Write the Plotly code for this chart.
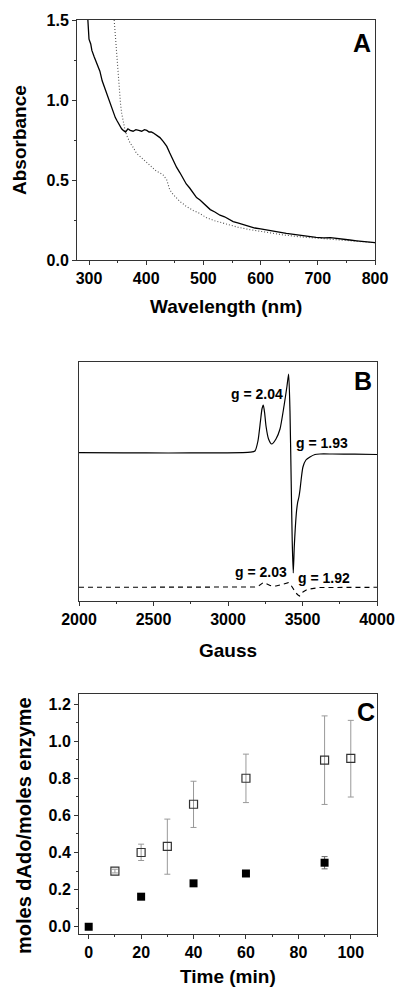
import plotly.graph_objects as go

W, H = 397, 989

# ---------------- Panel A data (UV-Vis) ----------------
a_solid_nm = [298, 300, 303, 305, 309, 313, 316, 319, 323, 327, 331, 335, 339, 342, 346, 349, 351,
              354, 357, 360, 364, 368, 372, 377, 382, 387, 392, 397, 401, 405, 409, 412, 418, 424,
              430, 436, 441, 447, 453, 459, 465, 470, 476, 482, 488, 494, 500, 505, 512, 520, 529,
              537, 545, 552, 560, 570, 581, 590, 600, 610, 620, 632, 645, 658, 670, 684, 697, 710,
              722, 735, 748, 756, 768, 780, 790, 800]
a_solid_abs = [1.50, 1.38, 1.35, 1.31, 1.27, 1.23, 1.20, 1.18, 1.12, 1.08, 1.04, 0.99, 0.95, 0.93,
               0.89, 0.87, 0.855, 0.84, 0.82, 0.81, 0.80, 0.82, 0.81, 0.805, 0.815, 0.81, 0.805,
               0.815, 0.81, 0.80, 0.80, 0.795, 0.78, 0.765, 0.74, 0.71, 0.67, 0.62, 0.58, 0.545,
               0.51, 0.475, 0.45, 0.42, 0.39, 0.375, 0.355, 0.335, 0.315, 0.30, 0.28, 0.27, 0.255,
               0.24, 0.232, 0.22, 0.208, 0.20, 0.195, 0.188, 0.182, 0.175, 0.167, 0.16, 0.153,
               0.148, 0.142, 0.138, 0.14, 0.133, 0.128, 0.125, 0.12, 0.116, 0.112, 0.108]

a_dot_nm = [344, 346, 348, 350, 352, 355, 357, 360, 363, 367, 372, 378, 383, 390, 395, 401, 408,
            413, 418, 424, 430, 436, 441, 447, 453, 459, 465, 470, 482, 494, 505, 520, 540, 560,
            581, 610, 639, 668, 697, 726, 756, 780, 800]
a_dot_abs = [1.50, 1.41, 1.31, 1.20, 1.08, 0.98, 0.92, 0.86, 0.81, 0.77, 0.73, 0.70, 0.667, 0.645,
             0.63, 0.61, 0.59, 0.57, 0.555, 0.545, 0.53, 0.50, 0.44, 0.41, 0.385, 0.365, 0.35,
             0.335, 0.31, 0.29, 0.265, 0.245, 0.225, 0.205, 0.19, 0.173, 0.157, 0.145, 0.137,
             0.13, 0.122, 0.115, 0.108]

# ---------------- Panel B data (EPR, arbitrary units) ----------------
b_top_gauss = [2000, 2300, 2600, 2900, 3100, 3150, 3181, 3201, 3218, 3228, 3237, 3246, 3255, 3272,
               3293, 3322, 3349, 3376, 3396, 3407, 3416, 3424, 3431, 3438, 3445, 3452, 3460, 3468,
               3476, 3483, 3493, 3503, 3523, 3550, 3584, 3617, 3700, 3850, 4000]
b_top_signal = [148.3, 148.2, 148.0, 148.1, 148.4, 148.8, 150, 160, 180, 192, 196, 188, 175, 162,
                157, 162, 172, 195, 215, 227, 190, 120, 60, 28, 55, 74, 90, 99, 104, 111, 124,
                134, 141, 144, 146.5, 147, 147, 146.8, 146.5]

b_bot_gauss = [2000, 2400, 2800, 3100, 3181, 3210, 3237, 3255, 3282, 3322, 3369, 3395, 3405,
               3418, 3429, 3442, 3456, 3470, 3480, 3492, 3503, 3525, 3550, 3617, 3800, 4000]
b_bot_signal = [13.7, 13.7, 13.7, 13.7, 14.0, 15.5, 18.5, 17.5, 15.5, 15.0, 17.0, 18.3, 18.3,
                17.0, 14.0, 10.5, 8.0, 6.0, 5.0, 6.5, 9.0, 11.0, 12.0, 13.5, 13.7, 13.7]

# ---------------- Panel C data ----------------
c_open_time = [10, 20, 30, 40, 60, 90, 100]
c_open_val = [0.30, 0.40, 0.433, 0.66, 0.80, 0.898, 0.907]
c_open_err_plus = [0.01, 0.045, 0.147, 0.124, 0.13, 0.238, 0.205]
c_open_err_minus = [0.01, 0.043, 0.150, 0.125, 0.131, 0.239, 0.208]

c_fill_time = [0, 20, 40, 60, 90]
c_fill_val = [0.0, 0.162, 0.234, 0.287, 0.345]
c_fill_err = [0.0, 0.005, 0.005, 0.005, 0.033]

a_x_ticks = [300, 400, 500, 600, 700, 800]
a_y_ticks = [0.0, 0.5, 1.0, 1.5]
b_x_ticks = [2000, 2500, 3000, 3500, 4000]
c_x_ticks = [0, 20, 40, 60, 80, 100]
c_y_ticks = [0.0, 0.2, 0.4, 0.6, 0.8, 1.0, 1.2]


def px(x):
    return x / W


def py(y):
    return 1 - y / H


FONT = "Liberation Sans, Arial, sans-serif"
tickfont = dict(family=FONT, size=16, color="black", weight="bold")

fig = go.Figure()

# Panel A
fig.add_trace(go.Scatter(x=a_dot_nm, y=a_dot_abs, mode="lines", xaxis="x", yaxis="y",
                         line=dict(color="#555555", width=1.1, dash="1px,2px"), showlegend=False))
fig.add_trace(go.Scatter(x=a_solid_nm, y=a_solid_abs, mode="lines", xaxis="x", yaxis="y",
                         line=dict(color="black", width=1.3), showlegend=False))

# Panel B
fig.add_trace(go.Scatter(x=b_top_gauss, y=b_top_signal, mode="lines", xaxis="x2", yaxis="y2",
                         line=dict(color="black", width=1.2, shape="spline", smoothing=0.6),
                         showlegend=False))
fig.add_trace(go.Scatter(x=b_bot_gauss, y=b_bot_signal, mode="lines", xaxis="x2", yaxis="y2",
                         line=dict(color="black", width=1.1, dash="5px,4px"), showlegend=False))

# Panel C
fig.add_trace(go.Scatter(x=c_open_time, y=c_open_val, mode="markers", xaxis="x3", yaxis="y3",
                         marker=dict(symbol="square-open", size=8, color="#333333",
                                     line=dict(width=1.2, color="#333333")),
                         error_y=dict(type="data", array=c_open_err_plus,
                                      arrayminus=c_open_err_minus, color="#999999",
                                      thickness=1, width=3),
                         showlegend=False))
fig.add_trace(go.Scatter(x=c_fill_time, y=c_fill_val, mode="markers", xaxis="x3", yaxis="y3",
                         marker=dict(symbol="square", size=8, color="black"),
                         error_y=dict(type="data", array=c_fill_err, color="#666666",
                                      thickness=1, width=3),
                         showlegend=False))

axis_common = dict(showline=True, linecolor="#333333", linewidth=1, mirror=True,
                   showgrid=False, zeroline=False, ticks="outside", ticklen=4,
                   tickcolor="#333333", tickwidth=1, tickfont=tickfont, automargin=False)

fig.update_layout(
    template="none",
    width=W, height=H,
    margin=dict(l=0, r=0, t=0, b=0, autoexpand=False),
    paper_bgcolor="white", plot_bgcolor="white",
    xaxis=dict(**axis_common, domain=[px(77), px(375)], anchor="y", range=[279, 800],
               tickvals=a_x_ticks, ticktext=[str(v) for v in a_x_ticks],
               minor=dict(dtick=50, ticks="outside", ticklen=2, tickcolor="#333333")),
    yaxis=dict(**axis_common, domain=[py(260), py(20)], anchor="x", range=[0, 1.5],
               tickvals=a_y_ticks, ticktext=["0.0", "0.5", "1.0", "1.5"],
               minor=dict(dtick=0.25, ticks="outside", ticklen=2, tickcolor="#333333")),
    xaxis2=dict(**axis_common, domain=[px(79), px(377)], anchor="y2", range=[2000, 4000],
                tickvals=b_x_ticks, ticktext=[str(v) for v in b_x_ticks],
                minor=dict(dtick=250, ticks="outside", ticklen=2, tickcolor="#333333")),
    yaxis2=dict(showline=True, linecolor="#333333", linewidth=1, mirror=True, showgrid=False,
                zeroline=False, showticklabels=False, ticks="", automargin=False,
                domain=[py(601), py(362)], anchor="x2", range=[0, 239]),
    xaxis3=dict(**axis_common, domain=[px(79), px(377)], anchor="y3", range=[-3.7, 110],
                tickvals=c_x_ticks, ticktext=[str(v) for v in c_x_ticks],
                minor=dict(dtick=10, ticks="outside", ticklen=2, tickcolor="#333333")),
    yaxis3=dict(**axis_common, domain=[py(934), py(694)], anchor="x3", range=[-0.039, 1.254],
                tickvals=c_y_ticks, ticktext=["%.1f" % v for v in c_y_ticks],
                minor=dict(dtick=0.1, ticks="outside", ticklen=2, tickcolor="#333333")),
)

titlefont = dict(family=FONT, size=19, color="black", weight="bold")
letterfont = dict(family=FONT, size=25, color="black", weight="bold")
gfont = dict(family=FONT, size=14, color="black", weight="bold")


def ann(text, x, y, font, angle=0, xanchor="center"):
    fig.add_annotation(text=text, x=px(x), y=py(y), xref="paper", yref="paper",
                       showarrow=False, font=font, textangle=angle,
                       xanchor=xanchor, yanchor="middle", borderpad=0)


# axis titles
ann("Wavelength (nm)", 226, 306, titlefont)
ann("Absorbance", 20, 140, titlefont, angle=-90)
ann("Gauss", 228, 650, titlefont)
ann("Time (min)", 228, 976, titlefont)
ann("moles dAdo/moles enzyme", 24, 826, dict(family=FONT, size=20, color="black",
                                               weight="bold"), angle=-90)

# panel letters
ann("A", 362, 43, letterfont)
ann("B", 363, 381, letterfont)
ann("C", 366, 712, letterfont)

# g-value labels
ann("g = 2.04", 257, 394, gfont)
ann("g = 1.93", 322, 443, gfont)
ann("g = 2.03", 261, 572, gfont)
ann("g = 1.92", 324, 578, gfont)

fig.write_html("out.html")
